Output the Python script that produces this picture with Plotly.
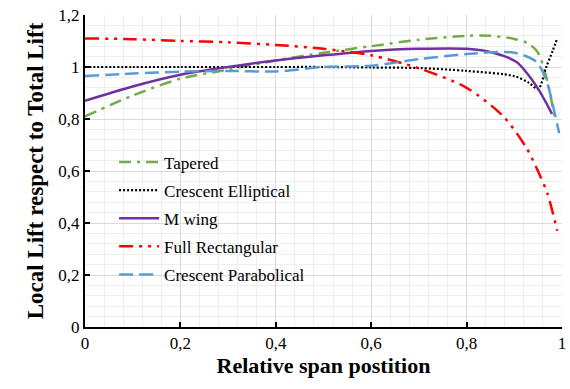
import plotly.graph_objects as go

# Relative span positions and local lift ratios
x_tap = [0, 0.1, 0.2, 0.3, 0.4, 0.5, 0.6, 0.7, 0.8, 0.85, 0.9, 0.93, 0.95, 0.97, 0.985]
y_tap = [0.81, 0.89, 0.955, 0.99, 1.025, 1.055, 1.08, 1.105, 1.12, 1.12, 1.108, 1.09, 1.054, 0.94, 0.80]

x_ell = [0, 0.1, 0.2, 0.3, 0.4, 0.5, 0.6, 0.7, 0.8, 0.9, 0.93, 0.95, 0.967, 0.98, 0.99]
y_ell = [1.0, 1.0, 1.0, 1.0, 1.0, 1.0, 0.998, 0.996, 0.985, 0.965, 0.94, 0.915, 1.0, 1.06, 1.11]

x_m = [0, 0.1, 0.2, 0.3, 0.4, 0.5, 0.6, 0.7, 0.8, 0.856, 0.904, 0.925, 0.952, 0.979]
y_m = [0.87, 0.925, 0.97, 1.0, 1.025, 1.045, 1.062, 1.07, 1.07, 1.055, 1.02, 0.98, 0.91, 0.82]

x_rect = [0, 0.1, 0.2, 0.3, 0.4, 0.5, 0.6, 0.7, 0.8, 0.877, 0.925, 0.952, 0.97, 0.99]
y_rect = [1.11, 1.107, 1.1, 1.095, 1.085, 1.07, 1.045, 0.995, 0.92, 0.81, 0.69, 0.59, 0.51, 0.37]

x_par = [0, 0.1, 0.2, 0.3, 0.4, 0.5, 0.6, 0.7, 0.8, 0.9, 0.946, 0.967, 0.98, 0.994]
y_par = [0.965, 0.975, 0.982, 0.985, 0.983, 1.0, 1.005, 1.03, 1.05, 1.055, 1.02, 0.95, 0.86, 0.745]

series = [
    ("Tapered", x_tap, y_tap, "#70AD47", "12px,6px,3px,6px", 2.5),
    ("Crescent Elliptical", x_ell, y_ell, "#000000", "2px,2px", 2.2),
    ("M wing", x_m, y_m, "#7030A0", "solid", 2.5),
    ("Full Rectangular", x_rect, y_rect, "#FF0000", "14px,6px,3px,6px,3px,6px", 2.5),
    ("Crescent Parabolical", x_par, y_par, "#5B9BD5", "14px,6px", 2.5),
]

fig = go.Figure()
for name, xs, ys, col, dash, w in series:
    fig.add_trace(go.Scatter(x=xs, y=ys, name=name, mode="lines", legendgroup=name,
                             line=dict(color=col, dash=dash, width=w, shape="spline", smoothing=0.8)))

serif = "Times New Roman, Liberation Serif, serif"
axis_common = dict(
    showline=True, linecolor="black", linewidth=2,
    ticks="inside", ticklen=5, tickwidth=2, tickcolor="black",
    showgrid=True, gridcolor="#D9D9D9", gridwidth=1,
    zeroline=False,
    tickfont=dict(family=serif, size=17, color="black"),
    ticklabeloverflow="allow",
    minor=dict(dtick=0.04, showgrid=True, gridcolor="#EFEFEF", gridwidth=1, ticks=""),
)

fig.update_layout(
    width=570, height=389,
    margin=dict(l=85, r=4, t=15, b=62),
    paper_bgcolor="white", plot_bgcolor="white",
    separators=", ",
    font=dict(family=serif, color="black"),
    xaxis=dict(range=[0, 1], dtick=0.2, tick0=0,
               title=dict(text="<b>Relative span postition</b>", font=dict(family=serif, size=22), standoff=4),
               **axis_common),
    yaxis=dict(range=[0, 1.2], dtick=0.2, tick0=0,
               title=dict(text="<b>Local Lift respect to Total Lift</b>", font=dict(family=serif, size=23), standoff=8),
               **axis_common),
    legend=dict(x=0.061, y=0.585, xanchor="left", yanchor="top",
                bgcolor="rgba(0,0,0,0)", font=dict(family=serif, size=17),
                tracegroupgap=3, itemwidth=40),
    showlegend=True,
)

fig.write_html("out.html")
